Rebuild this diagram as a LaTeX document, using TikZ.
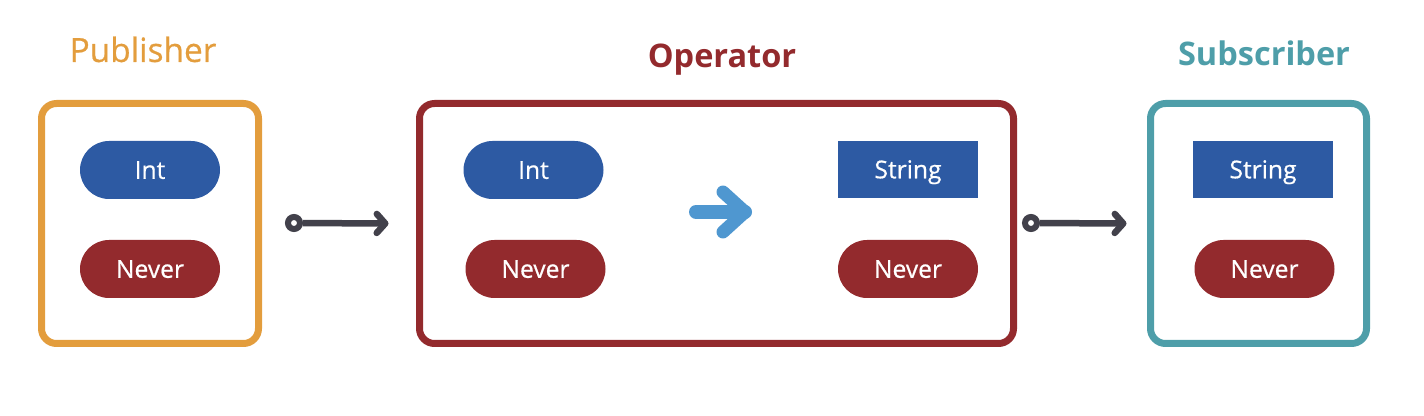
\documentclass[tikz,border=0pt]{standalone}
\usepackage{fontspec}
\setmainfont{Open Sans}
\newfontfamily\medfont[FakeBold=0.6]{Open Sans}
\usetikzlibrary{arrows.meta,positioning}
\definecolor{pubc}{HTML}{E39D3D}
\definecolor{opc}{HTML}{932A2D}
\definecolor{subc}{HTML}{4E9EA9}
\definecolor{typec}{HTML}{2D5AA3}
\definecolor{mapc}{HTML}{4F97D0}
\definecolor{linkc}{HTML}{42414B}
\tikzstyle{frame} = [rectangle, line width=0.14cm, rounded corners=0.3cm, minimum height=4.8cm, inner sep=0pt]
\tikzstyle{title} = [font=\fontsize{19}{22}\selectfont\medfont, text height=13.6pt, text depth=0pt]
\tikzstyle{btitle} = [font=\fontsize{18.5}{22}\selectfont\bfseries, text height=13.2pt, text depth=0pt]
\tikzstyle{pill} = [rectangle, rounded corners=0.58cm, minimum width=2.8cm, minimum height=1.16cm, text=white, font=\fontsize{14}{17}\selectfont\medfont, text height=10pt, text depth=0pt, text centered]
\tikzstyle{tag} = [rectangle, minimum width=2.8cm, minimum height=1.14cm, fill=typec, text=white, font=\fontsize{14}{17}\selectfont\medfont, text height=10pt, text depth=0pt, text centered]
\tikzstyle{ring} = [circle, draw=linkc, fill=white, line width=0.12cm, minimum size=0.24cm, inner sep=0pt]
\tikzstyle{link} = [linkc, line width=0.13cm, -{Straight Barb[round,length=0.17cm,width=0.38cm]}]

\begin{document}
\begin{tikzpicture}
		\useasboundingbox (0,0) rectangle (28.48,-8.32);
		% three frames
		\node[frame, draw=pubc, minimum width=4.34cm](pub) at (3.0,-4.47){};
		\node[frame, draw=opc, minimum width=11.88cm](op) at (14.33,-4.47){};
		\node[frame, draw=subc, minimum width=4.32cm](sub) at (25.17,-4.47){};
		
		\node[title, text=pubc](pubt) at (2.86,-1.0){Publisher};
		\node[btitle, text=opc](opt) at (14.44,-1.12){Operator};
		\node[btitle, text=subc](subt) at (25.28,-1.08){Subscriber};
		
		% publisher
		\node[pill, fill=typec](pubint) at (3.0,-3.4){Int};
		\node[pill, fill=opc](pubnever) at (3.0,-5.38){Never};
		
		% operator
		\node[pill, fill=typec](opint) at (10.67,-3.4){Int};
		\node[pill, fill=opc](opnever) at (10.71,-5.38){Never};
		\node[tag](opstring) at (18.16,-3.39){String};
		\node[pill, fill=opc](opnever2) at (18.16,-5.38){Never};
		\coordinate (mapa) at (13.92,-4.24);
		\coordinate (mapb) at (14.9,-4.24);
		\draw[mapc, line width=0.28cm, line cap=round](mapa)--(mapb);
		\draw[mapc, line width=0.26cm, line cap=round, line join=round]([shift={(-0.44,0.4)}]mapb)--(mapb)--([shift={(-0.44,-0.4)}]mapb);
		
		% subscriber
		\node[tag](substring) at (25.26,-3.39){String};
		\node[pill, fill=opc](subnever) at (25.29,-5.38){Never};
		
		% links
		\node[ring](r1) at (5.88,-4.46){};
		\node[ring](r2) at (20.62,-4.46){};
		\coordinate[left=0.55cm of op.west](l1b);
		\coordinate[left=0.41cm of sub.west](l2b);
		\draw[link](r1)--(l1b);
		\draw[link](r2)--(l2b);
	\end{tikzpicture}
\end{document}
